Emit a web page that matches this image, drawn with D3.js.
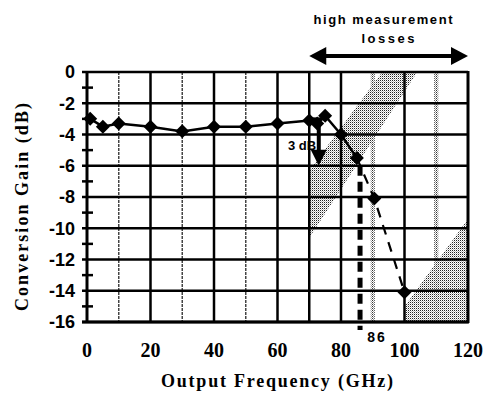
<!DOCTYPE html>
<html><head><meta charset="utf-8">
<script src="https://cdn.jsdelivr.net/npm/d3@7"></script>
<style>html,body{margin:0;padding:0;background:#fff;}svg{display:block;}</style>
</head><body>
<svg id="c" width="488" height="395"></svg>
<script>
// ---- data ----
const freqs = [1, 5, 10, 20, 30, 40, 50, 60, 70, 72.5, 75, 80, 85, 90.5, 100];
const gains = [-3.0, -3.5, -3.3, -3.5, -3.8, -3.5, -3.5, -3.3, -3.1, -3.3, -2.8, -4.0, -5.5, -8.1, -14.1];
const solidUntil = 85; // GHz, dashed beyond
const xTicks = [0, 20, 40, 60, 80, 100, 120];
const yTicks = [0, -2, -4, -6, -8, -10, -12, -14, -16];
const yMinor = [-1, -3, -5, -7, -9, -11, -13, -15];
const xSolidGrid = [20, 40, 60, 70, 80, 100];
const xDottedGrid = [10, 30, 50];
const xStippleGrid = [90, 110];
const lossBand = [[70, -6.3], [93, 0], [104, 0], [70, -10.6]];
const lossCorner = [[100, -15.0], [120, -9.4], [120, -16], [100, -16]];
const lossRange = [70, 120];
const cutoff = 86;
const dropAt = 73, dropFrom = -3.0, dropTo = -6.0;

const svg = d3.select("#c");
const x = d3.scaleLinear().domain([0, 120]).range([87, 468]);
const y = d3.scaleLinear().domain([0, -16]).range([72, 322]);

// stipple patterns
const defs = svg.append("defs");
const pat = defs.append("pattern").attr("id", "dots").attr("patternUnits", "userSpaceOnUse")
  .attr("width", 2).attr("height", 2);
pat.append("rect").attr("x", 0).attr("y", 0).attr("width", 1).attr("height", 1).attr("fill", "#222");
pat.append("rect").attr("x", 1).attr("y", 1).attr("width", 1).attr("height", 1).attr("fill", "#bbb");
const pat2 = defs.append("pattern").attr("id", "dots2").attr("patternUnits", "userSpaceOnUse")
  .attr("width", 2).attr("height", 2);
pat2.append("rect").attr("x", 0).attr("y", 0).attr("width", 1).attr("height", 1).attr("fill", "#333");
pat2.append("rect").attr("x", 1).attr("y", 1).attr("width", 1).attr("height", 1).attr("fill", "#999");

// shaded regions
const poly = d3.line().x(d => x(d[0])).y(d => y(d[1]));
svg.append("path").attr("d", poly(lossBand) + "Z").attr("fill", "url(#dots)");
svg.append("path").attr("d", poly(lossCorner) + "Z").attr("fill", "url(#dots)");

// vertical grid
svg.append("g").selectAll("line").data(xDottedGrid).join("line")
  .attr("x1", d => x(d)).attr("x2", d => x(d)).attr("y1", y(0)).attr("y2", y(-16))
  .attr("stroke", "#444").attr("stroke-width", 1.5).attr("stroke-dasharray", "3,1");
svg.append("g").selectAll("line").data(xStippleGrid).join("line")
  .attr("x1", d => x(d)).attr("x2", d => x(d)).attr("y1", y(0)).attr("y2", y(-16))
  .attr("stroke", "url(#dots2)").attr("stroke-width", 4);
svg.append("g").selectAll("line").data(xSolidGrid).join("line")
  .attr("x1", d => x(d)).attr("x2", d => x(d)).attr("y1", y(0)).attr("y2", y(-16))
  .attr("stroke", "#000").attr("stroke-width", 2.5);

// horizontal grid
svg.append("g").selectAll("line").data(yTicks).join("line")
  .attr("x1", x(0) - 5).attr("x2", x(120)).attr("y1", d => y(d)).attr("y2", d => y(d))
  .attr("stroke", "#000").attr("stroke-width", 2.5);
svg.append("g").selectAll("line").data(yMinor).join("line")
  .attr("x1", x(0) - 5).attr("x2", x(0) + 6).attr("y1", d => y(d)).attr("y2", d => y(d))
  .attr("stroke", "#000").attr("stroke-width", 2.5);
// axes frame
svg.append("line").attr("x1", x(0)).attr("x2", x(0)).attr("y1", y(0) - 1).attr("y2", y(-16) + 1)
  .attr("stroke", "#000").attr("stroke-width", 3);
svg.append("line").attr("x1", x(120)).attr("x2", x(120)).attr("y1", y(0) - 1).attr("y2", y(-16) + 1)
  .attr("stroke", "#000").attr("stroke-width", 3);
svg.append("line").attr("x1", x(0) - 5).attr("x2", x(120) + 1).attr("y1", y(-16)).attr("y2", y(-16))
  .attr("stroke", "#000").attr("stroke-width", 3);

// y tick labels
svg.append("g").selectAll("text").data(yTicks).join("text")
  .attr("x", 75).attr("y", d => y(d)).attr("dy", "0.36em").attr("text-anchor", "end")
  .attr("font-family", "Liberation Sans, Arial, sans-serif").attr("font-weight", "bold")
  .attr("font-size", 18).text(d => d);
// x tick labels
svg.append("g").selectAll("text").data(xTicks).join("text")
  .attr("x", d => x(d)).attr("y", 357).attr("text-anchor", "middle")
  .attr("font-family", "Liberation Serif, Times New Roman, serif").attr("font-weight", "bold")
  .attr("font-size", 20).text(d => d);

// axis titles
svg.append("text").attr("x", 277).attr("y", 387).attr("text-anchor", "middle")
  .attr("font-family", "Liberation Serif, Times New Roman, serif").attr("font-weight", "bold")
  .attr("font-size", 18).attr("textLength", 232).attr("lengthAdjust", "spacing")
  .text("Output Frequency (GHz)");
svg.append("text").attr("transform", "translate(28,207) rotate(-90)").attr("text-anchor", "middle")
  .attr("font-family", "Liberation Serif, Times New Roman, serif").attr("font-weight", "bold")
  .attr("font-size", 18).attr("textLength", 208).attr("lengthAdjust", "spacing")
  .text("Conversion Gain (dB)");

// cutoff dashed vertical line
svg.append("line").attr("x1", x(cutoff)).attr("x2", x(cutoff)).attr("y1", y(-6.0)).attr("y2", 330)
  .attr("stroke", "#000").attr("stroke-width", 5).attr("stroke-dasharray", "10,6");
svg.append("text").attr("x", x(cutoff) + 17).attr("y", 342).attr("text-anchor", "middle")
  .attr("font-family", "Liberation Sans, Arial, sans-serif").attr("font-weight", "bold")
  .attr("font-size", 14).attr("letter-spacing", 2).text(cutoff);

// data line
const pts = freqs.map((f, i) => [f, gains[i]]);
const solid = pts.filter(p => p[0] <= solidUntil);
const dashed = pts.filter(p => p[0] >= solidUntil);
svg.append("path").attr("d", poly(solid)).attr("fill", "none").attr("stroke", "#000").attr("stroke-width", 2.5);
svg.append("path").attr("d", poly(dashed)).attr("fill", "none").attr("stroke", "#000")
  .attr("stroke-width", 2.2).attr("stroke-dasharray", "10,8");
const sym = d3.symbol().type(d3.symbolSquare).size(98);
svg.append("g").selectAll("path").data(pts).join("path")
  .attr("d", sym).attr("transform", d => `translate(${x(d[0])},${y(d[1])}) rotate(45)`)
  .attr("fill", "#000");

// 3 dB drop arrow
svg.append("line").attr("x1", x(dropAt)).attr("x2", x(dropAt)).attr("y1", y(dropFrom)).attr("y2", y(dropTo) - 14)
  .attr("stroke", "#000").attr("stroke-width", 4);
svg.append("line").attr("x1", x(dropAt) - 6).attr("x2", x(dropAt) + 6).attr("y1", y(dropFrom)).attr("y2", y(dropFrom))
  .attr("stroke", "#000").attr("stroke-width", 3);
svg.append("path").attr("d", `M${x(dropAt) - 8},${y(dropTo) - 16} L${x(dropAt) + 8},${y(dropTo) - 16} L${x(dropAt)},${y(dropTo)} Z`)
  .attr("fill", "#000");
svg.append("text").attr("x", 288).attr("y", 150)
  .attr("font-family", "Liberation Sans, Arial, sans-serif").attr("font-weight", "bold")
  .attr("font-size", 13).text("3 dB");

// high measurement losses annotation
const ay = 56;
svg.append("line").attr("x1", x(lossRange[0]) + 12).attr("x2", x(lossRange[1]) - 12).attr("y1", ay).attr("y2", ay)
  .attr("stroke", "#000").attr("stroke-width", 4);
svg.append("path").attr("d", `M${x(lossRange[0])},${ay} L${x(lossRange[0]) + 17},${ay - 9} L${x(lossRange[0]) + 17},${ay + 9} Z`).attr("fill", "#000");
svg.append("path").attr("d", `M${x(lossRange[1])},${ay} L${x(lossRange[1]) - 17},${ay - 9} L${x(lossRange[1]) - 17},${ay + 9} Z`).attr("fill", "#000");
svg.append("text").attr("x", 383).attr("y", 24).attr("text-anchor", "middle")
  .attr("font-family", "Liberation Sans, Arial, sans-serif").attr("font-weight", "bold")
  .attr("font-size", 13).attr("textLength", 139).attr("lengthAdjust", "spacing").text("high measurement");
svg.append("text").attr("x", 388).attr("y", 43).attr("text-anchor", "middle")
  .attr("font-family", "Liberation Sans, Arial, sans-serif").attr("font-weight", "bold")
  .attr("font-size", 13).attr("textLength", 53).attr("lengthAdjust", "spacing").text("losses");
</script>
</body></html>
